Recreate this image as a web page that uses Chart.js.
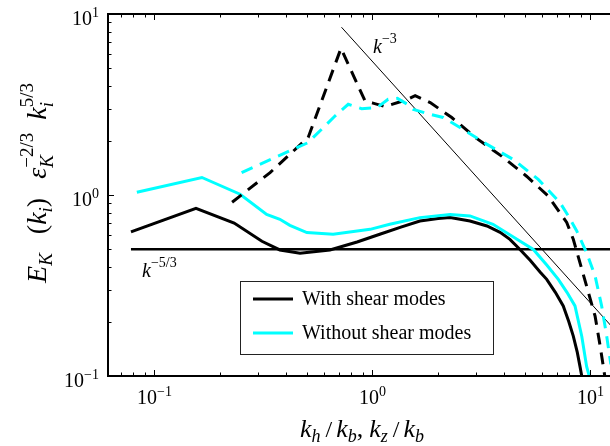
<!DOCTYPE html>
<html>
<head>
<meta charset="utf-8">
<script src="https://cdn.jsdelivr.net/npm/chart.js@4"></script>
<style>
  html, body { margin: 0; padding: 0; background: #fff; overflow: hidden; }
  canvas { display: block; }
</style>
</head>
<body>
<canvas id="canvas" width="610" height="446"></canvas>
<script>
// solid curves
const withShearK = [0.078, 0.155, 0.232, 0.311, 0.376, 0.465, 0.638, 0.85, 1.08, 1.35, 1.65, 2.0, 2.27, 2.8, 3.35, 3.85, 4.27, 4.75, 5.3, 5.87, 6.3, 6.9, 7.5, 7.95, 8.34, 8.7, 8.95, 9.12, 9.25];
const withShearE = [0.625, 0.845, 0.70, 0.555, 0.497, 0.476, 0.497, 0.55, 0.607, 0.665, 0.718, 0.742, 0.75, 0.718, 0.674, 0.622, 0.569, 0.50, 0.435, 0.376, 0.342, 0.29, 0.244, 0.2, 0.166, 0.135, 0.113, 0.1, 0.09];
const withoutShearK = [0.083, 0.165, 0.247, 0.327, 0.376, 0.418, 0.5, 0.66, 0.975, 1.2, 1.65, 2.27, 2.8, 3.57, 4.6, 5.47, 6.3, 7.12, 7.8, 8.49, 9.12, 9.6, 9.87, 10.0];
const withoutShearE = [1.035, 1.25, 1.01, 0.78, 0.734, 0.68, 0.62, 0.607, 0.646, 0.689, 0.75, 0.78, 0.766, 0.689, 0.569, 0.50, 0.41, 0.342, 0.29, 0.244, 0.166, 0.113, 0.1, 0.092];

// dashed curves
const withShearVK = [0.227, 0.339, 0.507, 0.717, 0.924, 1.005, 1.14, 1.455, 1.57, 1.84, 2.31, 2.96, 3.91, 5.09, 6.4, 7.78, 8.34, 9.6, 10.5, 11.07, 11.66, 11.8];
const withShearVE = [0.912, 1.33, 2.08, 6.46, 3.31, 3.22, 3.08, 3.38, 3.54, 3.24, 2.68, 2.08, 1.64, 1.27, 0.987, 0.705, 0.569, 0.314, 0.214, 0.147, 0.098, 0.09];
const withoutShearVK = [0.251, 0.508, 0.535, 0.673, 0.774, 0.892, 1.05, 1.18, 1.3, 1.44, 1.54, 1.84, 2.11, 2.52, 3.34, 4.43, 5.76, 7.25, 7.91, 8.65, 9.6, 10.5, 11.25, 11.87, 12.4];
const withoutShearVE = [1.33, 1.95, 2.08, 2.73, 3.17, 3.0, 3.04, 3.38, 3.42, 3.18, 2.97, 2.79, 2.68, 2.36, 1.91, 1.57, 1.22, 0.908, 0.766, 0.633, 0.48, 0.357, 0.244, 0.166, 0.116];

// reference slopes
const slope53K = [0.078, 13];
const slope53E = [0.502, 0.502];
const slope3K = [0.721, 12.6];
const slope3E = [8.45, 0.186];

const seriesLabels = ['With shear modes', 'Without shear modes'];
const xTickExps = [-1, 0, 1];
const yTickExps = [-1, 0, 1];

const SERIF = '"Liberation Serif", "DejaVu Serif", serif';
const CYAN = '#00ffff';

function pts(xs, ys) {
  return xs.map((v, i) => ({ x: v, y: ys[i] }));
}

// math text pieces: t text, f size, it italic, dy shift, keep (no advance), gap (extra px)
function mathWidth(ctx, runs) {
  let w = 0;
  runs.forEach((r) => {
    if (r.gap) { w += r.gap; return; }
    ctx.font = (r.it ? 'italic ' : '') + r.f + 'px ' + SERIF;
    if (!r.keep) w += ctx.measureText(r.t).width;
  });
  return w;
}
function drawMath(ctx, runs, x, y) {
  let cx = x;
  runs.forEach((r) => {
    if (r.gap) { cx += r.gap; return; }
    ctx.font = (r.it ? 'italic ' : '') + r.f + 'px ' + SERIF;
    ctx.fillText(r.t, cx, y + (r.dy || 0));
    if (!r.keep) cx += ctx.measureText(r.t).width;
  });
}

const decor = {
  id: 'decor',
  afterDatasetsDraw(chart) {
    const { ctx, chartArea: a } = chart;
    const xs = chart.scales.x;
    const ys = chart.scales.y;
    ctx.save();
    ctx.fillStyle = '#000';
    ctx.strokeStyle = '#000';
    ctx.textBaseline = 'alphabetic';
    ctx.textAlign = 'left';

    // ticks
    ctx.lineWidth = 1;
    ctx.beginPath();
    for (let d = -2; d <= 1; d++) {
      for (let m = 1; m <= 9; m++) {
        const v = m * Math.pow(10, d);
        const len = m === 1 ? 6 : 3.5;
        if (v >= xs.min && v <= xs.max) {
          const px = Math.round(xs.getPixelForValue(v)) + 0.5;
          ctx.moveTo(px, a.bottom); ctx.lineTo(px, a.bottom - len);
          ctx.moveTo(px, a.top); ctx.lineTo(px, a.top + len);
        }
        if (v >= ys.min && v <= ys.max) {
          const py = Math.round(ys.getPixelForValue(v)) + 0.5;
          ctx.moveTo(a.left, py); ctx.lineTo(a.left + len, py);
        }
      }
    }
    ctx.stroke();

    // frame
    ctx.lineWidth = 2;
    ctx.beginPath();
    ctx.moveTo(a.right + 5, a.top);
    ctx.lineTo(a.left, a.top);
    ctx.lineTo(a.left, a.bottom);
    ctx.lineTo(a.right + 5, a.bottom);
    ctx.stroke();

    // tick labels
    xTickExps.forEach((e) => {
      const runs = [{ t: '10', f: 20 }, { t: String(e).replace('-', '\u2212'), f: 14, dy: -8 }];
      const w = mathWidth(ctx, runs);
      drawMath(ctx, runs, xs.getPixelForValue(Math.pow(10, e)) - w / 2, 404);
    });
    yTickExps.forEach((e) => {
      const runs = [{ t: '10', f: 20 }, { t: String(e).replace('-', '\u2212'), f: 14, dy: -8 }];
      const w = mathWidth(ctx, runs);
      drawMath(ctx, runs, 99 - w, ys.getPixelForValue(Math.pow(10, e)) + 11);
    });

    // x title
    const xt = [
      { t: 'k', f: 26, it: true }, { t: 'h', f: 18, it: true, dy: 5 }, { gap: 5 }, { t: '/', f: 24 }, { gap: 4 },
      { t: 'k', f: 26, it: true }, { t: 'b', f: 18, it: true, dy: 5 }, { t: ',', f: 26 }, { gap: 6 },
      { t: 'k', f: 26, it: true }, { t: 'z', f: 18, it: true, dy: 5 }, { gap: 5 }, { t: '/', f: 24 }, { gap: 4 },
      { t: 'k', f: 26, it: true }, { t: 'b', f: 18, it: true, dy: 5 },
    ];
    drawMath(ctx, xt, 362 - mathWidth(ctx, xt) / 2, 437);

    // y title
    const yt = [
      { t: 'E', f: 28, it: true }, { t: 'K', f: 19, it: true, dy: 6 }, { gap: 19 },
      { t: '(', f: 28 }, { t: 'k', f: 28, it: true }, { t: 'i', f: 19, it: true, dy: 6 }, { t: ')', f: 28 }, { gap: 19 },
      { t: '\u03b5', f: 28, it: true }, { t: 'K', f: 19, it: true, dy: 7, keep: true },
      { t: '\u22122/3', f: 19, dy: -13 }, { gap: 13 },
      { t: 'k', f: 28, it: true }, { t: 'i', f: 19, it: true, dy: 7, keep: true },
      { t: '5/3', f: 19, dy: -13 },
    ];
    ctx.save();
    ctx.translate(46, 183);
    ctx.rotate(-Math.PI / 2);
    drawMath(ctx, yt, -mathWidth(ctx, yt) / 2, 0);
    ctx.restore();

    // slope labels
    drawMath(ctx, [{ t: 'k', f: 20, it: true }, { t: '\u22123', f: 14, dy: -10 }], 373, 53);
    drawMath(ctx, [{ t: 'k', f: 20, it: true }, { t: '\u22125/3', f: 14, dy: -10 }], 142, 277);

    // legend
    const lx = 240.5, ly = 281.5, lw = 253, lh = 73;
    ctx.fillStyle = '#fff';
    ctx.fillRect(lx, ly, lw, lh);
    ctx.strokeStyle = '#222';
    ctx.lineWidth = 1;
    ctx.strokeRect(lx, ly, lw, lh);
    [0, 1].forEach((i) => {
      const ds = chart.data.datasets[i];
      const yy = 299 + i * 34;
      ctx.strokeStyle = ds.borderColor;
      ctx.lineWidth = 3;
      ctx.beginPath();
      ctx.moveTo(253, yy); ctx.lineTo(293, yy);
      ctx.stroke();
      ctx.fillStyle = '#000';
      ctx.font = '20px ' + SERIF;
      ctx.fillText(seriesLabels[i], 302, yy + 6);
    });
    ctx.restore();
  },
};

const line = (data, color, width, dash, order) => ({
  data, borderColor: color, borderWidth: width, borderDash: dash,
  showLine: true, pointRadius: 0, tension: 0, fill: false, order,
});

new Chart(document.getElementById('canvas'), {
  type: 'scatter',
  data: {
    datasets: [
      line(pts(withShearK, withShearE), '#000', 3, [], 3),
      line(pts(withoutShearK, withoutShearE), CYAN, 3, [], 2),
      line(pts(withShearVK, withShearVE), '#000', 3, [12, 8], 1),
      line(pts(withoutShearVK, withoutShearVE), CYAN, 3, [12, 8], 0),
      line(pts(slope53K, slope53E), '#000', 2.5, [], 5),
      line(pts(slope3K, slope3E), '#000', 1, [], 4),
    ],
  },
  options: {
    responsive: false,
    animation: false,
    devicePixelRatio: 1,
    layout: { padding: { left: 108, top: 14, right: 0, bottom: 70 } },
    scales: {
      x: { type: 'logarithmic', min: 0.0612, max: 12.29, display: false },
      y: { type: 'logarithmic', min: 0.1, max: 10, display: false },
    },
    plugins: { legend: { display: false }, tooltip: { enabled: false } },
  },
  plugins: [decor],
});
</script>
</body>
</html>
